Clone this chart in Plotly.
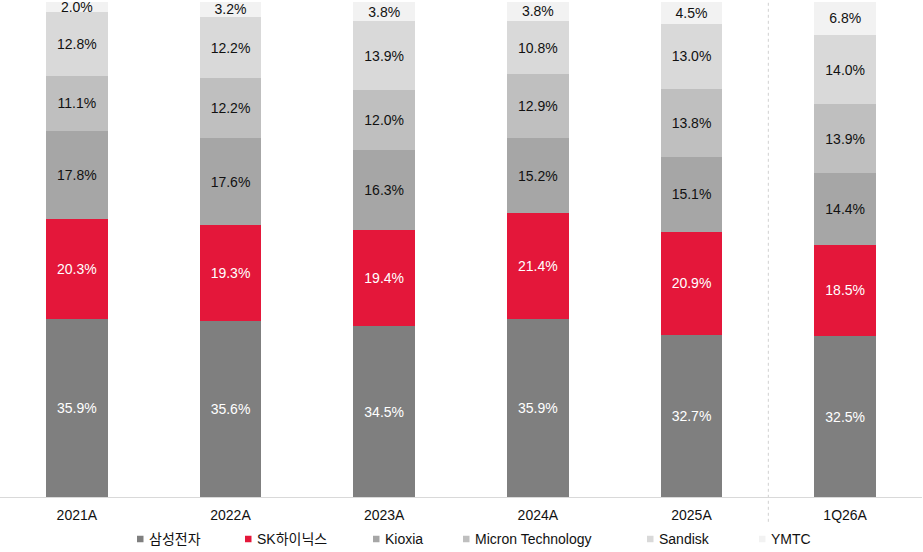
import plotly.graph_objects as go

categories = ["2021A", "2022A", "2023A", "2024A", "2025A", "1Q26A"]
series_names = ["삼성전자", "SK하이닉스", "Kioxia", "Micron Technology", "Sandisk", "YMTC"]
samsung = [35.9, 35.6, 34.5, 35.9, 32.7, 32.5]
sk_hynix = [20.3, 19.3, 19.4, 21.4, 20.9, 18.5]
kioxia = [17.8, 17.6, 16.3, 15.2, 15.1, 14.4]
micron = [11.1, 12.2, 12.0, 12.9, 13.8, 13.9]
sandisk = [12.8, 12.2, 13.9, 10.8, 13.0, 14.0]
ymtc = [2.0, 3.2, 3.8, 3.8, 4.5, 6.8]

values = [samsung, sk_hynix, kioxia, micron, sandisk, ymtc]
colors = ["#7F7F7F", "#E4173A", "#A6A6A6", "#BFBFBF", "#D9D9D9", "#F2F2F2"]
text_colors = ["white", "white", "#111111", "#111111", "#111111", "#111111"]

FONT = "Liberation Sans, Arial, Noto Sans CJK KR, sans-serif"

W, H = 923, 552
ML, MR, MT, MB = 0, 1, 1, 55
PW = W - ML - MR
PH = H - MT - MB

fig = go.Figure()
for name, vals, col, tcol in zip(series_names, values, colors, text_colors):
    fig.add_trace(go.Bar(
        x=categories, y=vals, name=name,
        marker=dict(color=col, line=dict(width=0)),
        texttemplate="%{y:.1f}%", textposition="inside",
        insidetextanchor="middle", textangle=0,
        textfont=dict(color=tcol, size=14, family=FONT),
        hoverinfo="skip", showlegend=False,
    ))

# separator between annual and quarterly data
fig.add_shape(type="line", xref="x", yref="paper", x0=4.5, x1=4.5, y0=-0.05, y1=1,
              line=dict(color="#D0D0D0", width=1, dash="dot"), layer="below")

# legend drawn manually (marker square + label text)
legend_marker_px = [137, 245, 373, 463, 647, 759]
legend_y_px = 539
ly = (PH + MT - legend_y_px) / PH
msz = 6.5
for name, col, px in zip(series_names, colors, legend_marker_px):
    x0 = px / PW
    x1 = (px + msz) / PW
    fig.add_shape(type="rect", xref="paper", yref="paper",
                  x0=x0, x1=x1, y0=ly - msz / 2 / PH, y1=ly + msz / 2 / PH,
                  fillcolor=col, line=dict(width=0))
    fig.add_annotation(xref="paper", yref="paper", x=(px + 9.5) / PW, y=ly,
                       xanchor="left", yanchor="middle", text=name, showarrow=False,
                       font=dict(size=14, family=FONT, color="#111111"))

fig.update_layout(
    barmode="stack", bargap=0.6,
    width=W, height=H,
    margin=dict(l=ML, r=MR, t=MT, b=MB),
    paper_bgcolor="white", plot_bgcolor="white",
    font=dict(family=FONT, size=14, color="#111111"),
    uniformtext=dict(minsize=14, mode="show"),
    showlegend=False,
    xaxis=dict(showgrid=False, showline=True, linecolor="#D9D9D9", linewidth=1,
               ticks="", ticklabelstandoff=5,
               tickfont=dict(size=14, color="#111111"), fixedrange=True),
    yaxis=dict(visible=False, range=[0, 100.2], fixedrange=True),
)

fig.write_html("out.html")
